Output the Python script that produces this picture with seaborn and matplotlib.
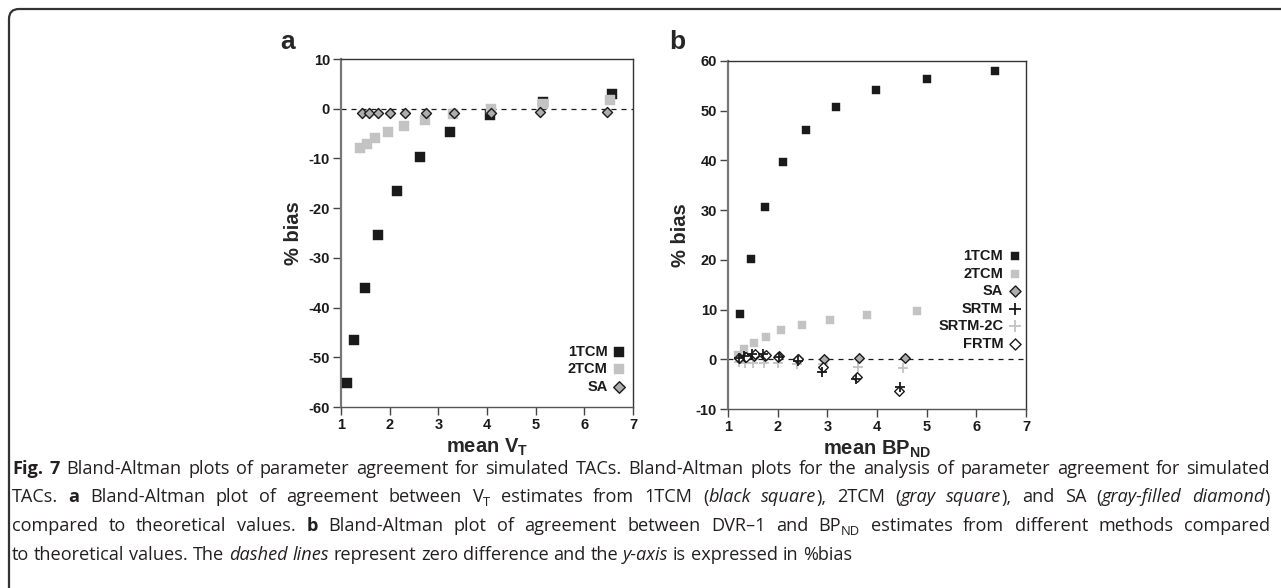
import matplotlib
matplotlib.use("Agg")
import matplotlib.pyplot as plt
import seaborn as sns
import pandas as pd
from matplotlib.patches import FancyBboxPatch
from matplotlib.transforms import IdentityTransform

# ---- data ----
# panel a : mean V_T vs % bias
a_1tcm_x = [1.12, 1.27, 1.49, 1.77, 2.15, 2.63, 3.24, 4.07, 5.15, 6.57]
a_1tcm_y = [-55.2, -46.6, -36.0, -25.5, -16.5, -9.7, -4.7, -1.2, 1.4, 3.0]
a_2tcm_x = [1.39, 1.53, 1.70, 1.96, 2.29, 2.73, 3.31, 4.09, 5.16, 6.53]
a_2tcm_y = [-7.9, -7.1, -5.9, -4.7, -3.5, -2.2, -1.1, 0.0, 1.0, 1.7]
a_sa_x = [1.43, 1.57, 1.75, 2.00, 2.31, 2.75, 3.32, 4.08, 5.09, 6.46]
a_sa_y = [-0.9, -0.9, -0.9, -0.9, -0.9, -0.9, -0.9, -0.8, -0.7, -0.7]

# panel b : mean BP_ND vs % bias
b_1tcm_x = [1.25, 1.46, 1.75, 2.11, 2.58, 3.18, 3.97, 5.01, 6.38]
b_1tcm_y = [9.1, 20.1, 30.7, 39.6, 46.1, 50.8, 54.1, 56.4, 58.0]
b_2tcm_x = [1.21, 1.33, 1.52, 1.76, 2.07, 2.49, 3.06, 3.79, 4.80]
b_2tcm_y = [0.9, 2.0, 3.3, 4.4, 5.8, 6.9, 8.0, 8.9, 9.7]
b_sa_x = [1.22, 1.35, 1.52, 1.75, 2.02, 2.41, 2.94, 3.63, 4.57]
b_sa_y = [0.3, 0.4, 0.6, 0.7, 0.6, 0.0, 0.1, 0.3, 0.3]
b_srtm_x = [1.22, 1.33, 1.48, 1.71, 2.02, 2.40, 2.89, 3.57, 4.46]
b_srtm_y = [0.3, 0.6, 1.1, 1.1, 0.5, -0.3, -2.6, -3.9, -5.6]
b_srtm2c_x = [1.22, 1.34, 1.50, 1.73, 2.00, 2.39, 2.92, 3.61, 4.53]
b_srtm2c_y = [-0.6, -0.7, -0.7, -0.8, -0.7, -1.0, -1.0, -1.5, -1.7]
b_frtm_x = [1.23, 1.36, 1.54, 1.76, 2.01, 2.40, 2.92, 3.59, 4.44]
b_frtm_y = [0.2, 0.5, 1.0, 0.9, 0.5, 0.0, -1.6, -3.5, -6.3]

a_yticks = [-60, -50, -40, -30, -20, -10, 0, 10]
b_yticks = [-10, 0, 10, 20, 30, 40, 50, 60]
xticks = [1, 2, 3, 4, 5, 6, 7]

caption_lines = [
    "#Fig. 7# Bland-Altman plots of parameter agreement for simulated TACs. Bland-Altman plots for the analysis of parameter agreement for simulated",
    "TACs. #a# Bland-Altman plot of agreement between V~T~ estimates from 1TCM (*black square*), 2TCM (*gray square*), and SA (*gray-filled diamond*)",
    "compared to theoretical values. #b# Bland-Altman plot of agreement between DVR\u20131 and BP~ND~ estimates from different methods compared",
    "to theoretical values. The *dashed lines* represent zero difference and the *y-axis* is expressed in %bias",
]

# ---- style ----
sns.set_style("white")
plt.rcParams["font.family"] = ["Liberation Sans", "DejaVu Sans"]
plt.rcParams["axes.unicode_minus"] = False
plt.rcParams["mathtext.fontset"] = "custom"
plt.rcParams["mathtext.rm"] = "Liberation Sans:bold"
plt.rcParams["mathtext.bf"] = "Liberation Sans:bold"

W, H = 1281, 588
fig = plt.figure(figsize=(W / 100, H / 100), dpi=100)

BLACK = "#1a1a1a"
GRAY = "#c3c3c3"
DGRAY = "#adadad"


def px_axes(l, t, r, b):
    return fig.add_axes([l / W, 1 - b / H, (r - l) / W, (b - t) / H])


def style_axes(ax, yticks, ylim):
    ax.set_xlim(1, 7)
    ax.set_ylim(*ylim)
    ax.set_xticks(xticks)
    ax.set_yticks(yticks)
    for s in ax.spines.values():
        s.set_visible(True)
        s.set_color("#333333")
        s.set_linewidth(1.0)
    ax.spines["left"].set_color("#777777")
    ax.spines["left"].set_linewidth(1.6)
    ax.spines["bottom"].set_color("#555555")
    ax.tick_params(axis="both", direction="out", length=6, width=1.0,
                   color="#444444", labelsize=10.5, pad=2, left=True, bottom=True)
    for lab in ax.get_xticklabels() + ax.get_yticklabels():
        lab.set_fontweight("bold")
        lab.set_color("#1a1a1a")
    ax.axhline(0, color=BLACK, lw=0.9, ls=(0, (4, 4)), zorder=1)
    ax.set_ylabel("% bias", fontsize=14.5, fontweight="bold", labelpad=4)


def add_legend(ax, anchor):
    leg = ax.legend(loc="lower right", bbox_to_anchor=anchor, frameon=False,
                    markerfirst=False, handlelength=0.9, handletextpad=0.35,
                    labelspacing=0.24, borderpad=0, borderaxespad=0,
                    prop={"weight": "bold", "size": 10.5}, markerscale=1.15)
    for t in leg.get_texts():
        t.set_color("#1a1a1a")


# ---- panel a ----
ax1 = px_axes(341, 59, 633, 407)
sns.scatterplot(x=a_1tcm_x, y=a_1tcm_y, ax=ax1, marker="s", s=42, color=BLACK,
                edgecolor=BLACK, linewidth=0.3, label="1TCM", zorder=3)
sns.scatterplot(x=a_2tcm_x, y=a_2tcm_y, ax=ax1, marker="s", s=42, color=GRAY,
                edgecolor=GRAY, linewidth=0.3, label="2TCM", zorder=4)
sns.scatterplot(x=a_sa_x, y=a_sa_y, ax=ax1, marker="D", s=26, color=DGRAY,
                edgecolor=BLACK, linewidth=1.0, label="SA", zorder=5)
style_axes(ax1, a_yticks, (-60, 10))
ax1.set_xlabel(r"mean V$_\mathrm{T}$", fontsize=14.5, fontweight="bold", labelpad=3)
add_legend(ax1, (0.975, 0.038))
fig.text(288 / W, 1 - 42 / H, "a", fontsize=19, fontweight="bold", ha="center", va="center")

# ---- panel b ----
ax2 = px_axes(728, 61, 1026, 409)
sns.scatterplot(x=b_1tcm_x, y=b_1tcm_y, ax=ax2, marker="s", s=30, color=BLACK,
                edgecolor=BLACK, linewidth=0.3, label="1TCM", zorder=3)
sns.scatterplot(x=b_2tcm_x, y=b_2tcm_y, ax=ax2, marker="s", s=30, color=GRAY,
                edgecolor=GRAY, linewidth=0.3, label="2TCM", zorder=3)
sns.scatterplot(x=b_sa_x, y=b_sa_y, ax=ax2, marker="D", s=24, color=DGRAY,
                edgecolor=BLACK, linewidth=1.0, label="SA", zorder=4)
sns.scatterplot(x=b_srtm_x, y=b_srtm_y, ax=ax2, marker="+", s=60, color=BLACK,
                linewidth=1.3, label="SRTM", zorder=6)
sns.scatterplot(x=b_srtm2c_x, y=b_srtm2c_y, ax=ax2, marker="+", s=60, color=GRAY,
                linewidth=1.3, label="SRTM-2C", zorder=3)
sns.scatterplot(x=b_frtm_x, y=b_frtm_y, ax=ax2, marker="D", s=24, color="white",
                edgecolor=BLACK, linewidth=1.0, label="FRTM", zorder=5)
style_axes(ax2, b_yticks, (-10, 60))
ax2.set_xlabel(r"mean BP$_\mathrm{ND}$", fontsize=14.5, fontweight="bold", labelpad=3)
add_legend(ax2, (0.985, 0.168))
fig.text(677 / W, 1 - 42 / H, "b", fontsize=19, fontweight="bold", ha="center", va="center")

# ---- frame round the figure ----
frame = FancyBboxPatch((9, -40), W + 40, H - 9 + 40, transform=IdentityTransform(),
                       boxstyle="round,pad=0,rounding_size=10", fill=False,
                       edgecolor="#333333", linewidth=1.6, clip_on=False)
fig.add_artist(frame)

# ---- caption (justified, word by word) ----
cap_font = ["Open Sans", "DejaVu Sans"]


def parse(line):
    words, cur, seg, style = [], [], "", {"b": False, "i": False, "s": False}

    def flush():
        nonlocal seg
        if seg:
            cur.append((seg, dict(style)))
        seg = ""

    for ch in line:
        if ch in "#*~":
            flush()
            key = {"#": "b", "*": "i", "~": "s"}[ch]
            style[key] = not style[key]
        elif ch == " ":
            flush()
            if cur:
                words.append(cur)
            cur = []
        else:
            seg += ch
    flush()
    if cur:
        words.append(cur)
    return words


renderer = fig.canvas.get_renderer()
PLAIN = {"b": False, "i": False, "s": False}


def seg_kwargs(st, size):
    return dict(fontfamily=cap_font, fontsize=size * (0.72 if st["s"] else 1.0),
                fontweight="bold" if st["b"] else "normal",
                fontstyle="italic" if st["i"] else "normal", color="#231f20")


def seg_width(text, st, size):
    t = fig.text(0, 0, text, **seg_kwargs(st, size))
    w = t.get_window_extent(renderer).width
    t.remove()
    return w


def space_w(size):
    return seg_width("a b", PLAIN, size) - seg_width("ab", PLAIN, size)


x_left, x_right = 12, 1270

# size picked so the first line nearly fills the width with normal spacing
ref_size = 10.0
w1 = parse(caption_lines[0])
nat = sum(seg_width(s, st, ref_size) for w in w1 for s, st in w) + \
    (len(w1) - 1) * space_w(ref_size)
cap_size = 0.97 * ref_size * (x_right - x_left) / nat

baselines = [474, 502.5, 531, 559.5]
for li, (line, base) in enumerate(zip(caption_lines, baselines)):
    words = parse(line)
    widths = [[seg_width(s, st, cap_size) for s, st in w] for w in words]
    totals = [sum(w) for w in widths]
    if li < len(caption_lines) - 1:
        gap = (x_right - x_left - sum(totals)) / (len(words) - 1)
    else:
        gap = space_w(cap_size)
    x = x_left
    for w, ws in zip(words, widths):
        for (s, st), sw in zip(w, ws):
            y = base + (4 if st["s"] else 0)
            fig.text(x / W, 1 - y / H, s, va="baseline", ha="left", **seg_kwargs(st, cap_size))
            x += sw
        x += gap

fig.savefig("out.png", dpi=100)
